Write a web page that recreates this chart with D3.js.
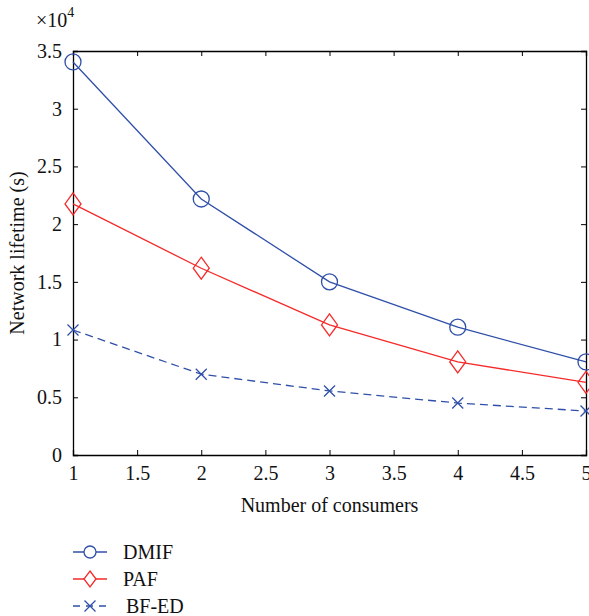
<!DOCTYPE html>
<html>
<head>
<meta charset="utf-8">
<script src="https://cdn.jsdelivr.net/npm/d3@7"></script>
<style>
  html, body { margin: 0; padding: 0; background: #fff; }
  svg { display: block; font-family: "Liberation Serif", "DejaVu Serif", serif; }
</style>
</head>
<body>
<svg id="chart" width="589" height="616"></svg>
<script>
// Number of consumers
const consumers = [1, 2, 3, 4, 5];
// Network lifetime in seconds
const dmif = [34050, 22180, 15000, 11070, 8060];
const paf  = [21750, 16180, 11270, 8060, 6300];
const bfed = [10830, 7000, 5550, 4500, 3810];

const seriesNames = ["DMIF", "PAF", "BF-ED"];
const xTicks = [1, 1.5, 2, 2.5, 3, 3.5, 4, 4.5, 5];
const yTicks = [0, 5000, 10000, 15000, 20000, 25000, 30000, 35000];

const blue = "#3050a8";
const red = "#f52a2a";

const svg = d3.select("#chart");
const margin = { left: 73, top: 51, right: 3, bottom: 161 };
const W = 589, H = 616;
const x = d3.scaleLinear().domain([1, 5]).range([margin.left, W - margin.right]);
const y = d3.scaleLinear().domain([0, 35000]).range([H - margin.bottom, margin.top]);

const font = 20;

// frame with inward ticks on all four sides
const gx = svg.append("g").attr("transform", `translate(0,${y(0)})`)
  .call(d3.axisBottom(x).tickValues(xTicks).tickSize(-5).tickPadding(11)
    .tickFormat(d => d3.format("")(d)));
const gxTop = svg.append("g").attr("transform", `translate(0,${y(35000)})`)
  .call(d3.axisTop(x).tickValues(xTicks).tickSize(-5).tickFormat(""));
const gy = svg.append("g").attr("transform", `translate(${x(1)},0)`)
  .call(d3.axisLeft(y).tickValues(yTicks).tickSize(-5).tickPadding(11)
    .tickFormat(d => d3.format("")(d / 10000)));
const gyRight = svg.append("g").attr("transform", `translate(${x(5)},0)`)
  .call(d3.axisRight(y).tickValues(yTicks).tickSize(-5).tickFormat(""));

[gx, gxTop, gy, gyRight].forEach(g => {
  g.select(".domain").attr("stroke", "#000").attr("stroke-width", 1.3);
  g.selectAll(".tick line").attr("stroke", "#000").attr("stroke-width", 1);
  g.selectAll(".tick text").attr("fill", "#111").attr("font-size", font)
    .attr("font-family", '"Liberation Serif", serif');
});
// hide the end ticks that sit on the frame corners
gx.selectAll(".tick").filter(d => d === 1 || d === 5).select("line").remove();
gxTop.selectAll(".tick").filter(d => d === 1 || d === 5).select("line").remove();
gy.selectAll(".tick").filter(d => d === 0 || d === 35000).select("line").remove();
gyRight.selectAll(".tick").filter(d => d === 0 || d === 35000).select("line").remove();

// exponent label
const expo = svg.append("text").attr("x", 36).attr("y", 27).attr("font-size", font).attr("fill", "#111");
expo.append("tspan").text("×10");
expo.append("tspan").attr("dy", -10).attr("font-size", 14).text("4");

// axis titles
svg.append("text").attr("x", (x(1) + x(5)) / 2).attr("y", 512)
  .attr("text-anchor", "middle").attr("font-size", font).attr("fill", "#111")
  .text("Number of consumers");
svg.append("text").attr("transform", `translate(24,${(y(0) + y(35000)) / 2}) rotate(-90)`)
  .attr("text-anchor", "middle").attr("font-size", font).attr("fill", "#111")
  .text("Network lifetime (s)");

const line = d3.line().x((d, i) => x(consumers[i])).y(d => y(d));

const series = [
  { name: seriesNames[0], values: dmif, color: blue, dash: null, marker: "circle" },
  { name: seriesNames[1], values: paf, color: red, dash: null, marker: "diamond" },
  { name: seriesNames[2], values: bfed, color: blue, dash: "8,5", marker: "cross" }
];

function drawMarker(g, type, cx, cy, color) {
  if (type === "circle") {
    g.append("circle").attr("cx", cx).attr("cy", cy).attr("r", 8)
      .attr("fill", "none").attr("stroke", color).attr("stroke-width", 1.3);
  } else if (type === "diamond") {
    g.append("path").attr("d", `M${cx},${cy - 11}L${cx + 8},${cy}L${cx},${cy + 11}L${cx - 8},${cy}Z`)
      .attr("fill", "none").attr("stroke", color).attr("stroke-width", 1.3);
  } else {
    const s = 5.5;
    g.append("path").attr("d", `M${cx - s},${cy - s}L${cx + s},${cy + s}M${cx - s},${cy + s}L${cx + s},${cy - s}`)
      .attr("fill", "none").attr("stroke", color).attr("stroke-width", 1.3);
  }
}

series.forEach(s => {
  svg.append("path").datum(s.values).attr("d", line)
    .attr("fill", "none").attr("stroke", s.color).attr("stroke-width", 1.3)
    .attr("stroke-dasharray", s.dash);
  const g = svg.append("g");
  s.values.forEach((v, i) => drawMarker(g, s.marker, x(consumers[i]), y(v), s.color));
});

// legend
const legend = svg.append("g");
series.forEach((s, i) => {
  const ly = 552 + i * 27;
  legend.append("line").attr("x1", 73).attr("x2", 107).attr("y1", ly).attr("y2", ly)
    .attr("stroke", s.color).attr("stroke-width", 1.3).attr("stroke-dasharray", s.dash ? "7,6" : null);
  const lg = legend.append("g");
  if (s.marker === "circle") {
    lg.append("circle").attr("cx", 90).attr("cy", ly).attr("r", 6)
      .attr("fill", "#fff").attr("stroke", s.color).attr("stroke-width", 1.3);
  } else if (s.marker === "diamond") {
    lg.append("path").attr("d", `M90,${ly - 8}L96,${ly}L90,${ly + 8}L84,${ly}Z`)
      .attr("fill", "#fff").attr("stroke", s.color).attr("stroke-width", 1.3);
  } else {
    drawMarker(lg, "cross", 90, ly, s.color);
  }
  legend.append("text").attr("x", s.marker === "cross" ? 126 : 123).attr("y", ly + 7)
    .attr("font-size", font).attr("fill", "#111").text(s.name);
});
</script>
</body>
</html>
